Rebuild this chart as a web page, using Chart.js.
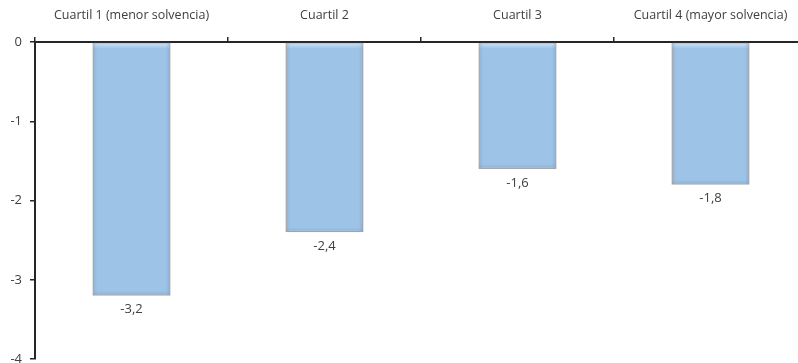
<!DOCTYPE html>
<html>
<head>
<meta charset="utf-8">
<script src="https://cdn.jsdelivr.net/npm/chart.js@4.4.0/dist/chart.umd.min.js"></script>
<style>
html,body{margin:0;padding:0;background:#fff;overflow:hidden;}
#wrap{width:798px;height:363px;overflow:hidden;position:relative;}
canvas{position:absolute;left:0;top:0;}
</style>
</head>
<body>
<div id="wrap"><canvas id="c" width="807" height="375"></canvas></div>
<script>
const categories = ["Cuartil 1 (menor solvencia)", "Cuartil 2", "Cuartil 3", "Cuartil 4 (mayor solvencia)"];
const values = [-3.2, -2.4, -1.6, -1.8];
const yTicks = [0, -1, -2, -3, -4];

const FONT = "'Open Sans', 'DejaVu Sans', sans-serif";

const valueLabels = {
  id: 'valueLabels',
  afterDatasetsDraw(chart) {
    const ctx = chart.ctx;
    const meta = chart.getDatasetMeta(0);
    ctx.save();
    ctx.font = "13px " + FONT;
    ctx.fillStyle = '#404040';
    ctx.textAlign = 'center';
    ctx.textBaseline = 'middle';
    meta.data.forEach((bar, i) => {
      const txt = values[i].toFixed(1).replace('.', ',');
      ctx.fillText(txt, bar.x, bar.y + 14);
    });
    ctx.restore();
  }
};

const shade = {
  id: 'shade',
  afterDatasetsDraw(chart) {
    const ctx = chart.ctx;
    const meta = chart.getDatasetMeta(0);
    ctx.save();
    meta.data.forEach((bar) => {
      const w = bar.width, l = bar.x - w/2, r = bar.x + w/2, t = bar.base, b = bar.y;
      let g = ctx.createLinearGradient(0, t, 0, t + 6);
      g.addColorStop(0, 'rgba(210,230,250,0.9)');
      g.addColorStop(1, 'rgba(210,230,250,0)');
      ctx.fillStyle = g;
      ctx.fillRect(l + 1, t + 1, w - 2, 6);
      g = ctx.createLinearGradient(l, 0, l + 5, 0);
      g.addColorStop(0, 'rgba(110,140,180,0.35)');
      g.addColorStop(1, 'rgba(110,140,180,0)');
      ctx.fillStyle = g;
      ctx.fillRect(l + 1, t, 5, b - t - 1);
      g = ctx.createLinearGradient(r, 0, r - 5, 0);
      g.addColorStop(0, 'rgba(110,140,180,0.35)');
      g.addColorStop(1, 'rgba(110,140,180,0)');
      ctx.fillStyle = g;
      ctx.fillRect(r - 6, t, 5, b - t - 1);
      g = ctx.createLinearGradient(0, b, 0, b - 5);
      g.addColorStop(0, 'rgba(110,140,180,0.35)');
      g.addColorStop(1, 'rgba(110,140,180,0)');
      ctx.fillStyle = g;
      ctx.fillRect(l + 1, b - 6, w - 2, 5);
    });
    ctx.restore();
  }
};

new Chart(document.getElementById('c'), {
  type: 'bar',
  data: {
    labels: categories,
    datasets: [{
      data: values,
      backgroundColor: '#9dc3e6',
      borderColor: '#a6a6a6',
      borderWidth: 1.5,
      borderSkipped: 'start',
      barPercentage: 0.81,
      categoryPercentage: 0.5
    }]
  },
  options: {
    responsive: false,
    devicePixelRatio: 1,
    animation: false,
    layout: { padding: { left: 0, right: 0, top: 0, bottom: 6 } },
    plugins: { legend: { display: false }, tooltip: { enabled: false }, title: { display: false } },
    scales: {
      x: {
        position: 'top',
        grid: { display: true, drawOnChartArea: false, offset: true, tickLength: 5, color: '#262626', lineWidth: 1.5 },
        border: { display: true, color: '#262626', width: 2 },
        ticks: { color: '#404040', font: { family: FONT, size: 12.5 }, padding: 14, maxRotation: 0 },
        afterFit(scale) { scale.height = 42; }
      },
      y: {
        min: -4, max: 0,
        afterBuildTicks(scale) { scale.ticks = yTicks.map(v => ({ value: v })); },
        grid: { display: true, drawOnChartArea: false, tickLength: 5, color: '#262626', lineWidth: 1.5 },
        border: { display: true, color: '#262626', width: 2 },
        ticks: { color: '#404040', font: { family: FONT, size: 13 }, padding: 8 },
        afterFit(scale) { scale.width = 35; }
      }
    }
  },
  plugins: [shade, valueLabels]
});
</script>
</body>
</html>
